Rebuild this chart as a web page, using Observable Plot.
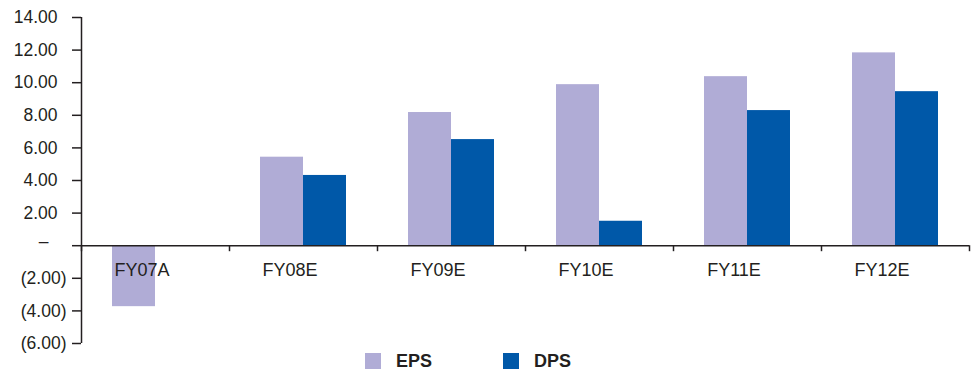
<!DOCTYPE html>
<html>
<head>
<meta charset="utf-8">
<script src="https://cdn.jsdelivr.net/npm/d3@7"></script>
<script src="https://cdn.jsdelivr.net/npm/@observablehq/plot@0.6"></script>
<style>
  html, body { margin: 0; padding: 0; background: #fff; }
  #wrap { width: 978px; font-family: "Liberation Sans", Arial, sans-serif; color: #231f20; }
  #chart svg { overflow: visible; display: block; }
  #legend { position: relative; height: 24px; }
  .sw { position: absolute; top: 3px; width: 16px; height: 16px; }
  .lt { position: absolute; top: 0px; font-weight: bold; font-size: 18px; line-height: 22px; }
</style>
</head>
<body>
<div id="wrap">
  <div id="chart"></div>
  <div id="legend"></div>
</div>
<script>
const categories = ["FY07A", "FY08E", "FY09E", "FY10E", "FY11E", "FY12E"];
const epsValues = [-3.74, 5.43, 8.17, 9.88, 10.37, 11.83];
const dpsValues = [null, 4.31, 6.51, 1.50, 8.29, 9.45];
const yTicks = [-6, -4, -2, 0, 2, 4, 6, 8, 10, 12, 14];
const seriesNames = ["EPS", "DPS"];
const seriesColors = ["#b0acd6", "#0058a8"];

const eps = categories.map((c, i) => ({cat: c, value: epsValues[i]}));
const dps = categories.map((c, i) => ({cat: c, value: dpsValues[i]})).filter(d => d.value != null);

const ink = "#231f20";
const fmt = v => v === 0 ? "–" : v < 0 ? `(${Math.abs(v).toFixed(2)})` : v.toFixed(2);
const half = 74;
const barW = 43;

const chart = Plot.plot({
  width: 978,
  height: 350,
  marginLeft: 81,
  marginRight: 9,
  marginTop: 17,
  marginBottom: 7,
  style: {fontFamily: "'Liberation Sans', Arial, sans-serif", color: ink, background: "#fff", overflow: "visible"},
  x: {type: "band", domain: categories, padding: 0, axis: null},
  y: {domain: [-6, 14], axis: null},
  marks: [
    Plot.barY(eps, {x: "cat", y: "value", fill: seriesColors[0], insetLeft: half - barW, insetRight: half}),
    Plot.barY(dps, {x: "cat", y: "value", fill: seriesColors[1], insetLeft: half, insetRight: half - barW}),
    Plot.ruleY([0], {stroke: ink, strokeWidth: 1.5}),
    Plot.ruleX([categories[0]], {x: d => d, y1: -6, y2: 14, dx: -half, stroke: ink, strokeWidth: 1.5}),
    Plot.ruleX(categories, {x: d => d, y1: 0, y2: 0, dx: -half, insetBottom: -6, stroke: ink, strokeWidth: 1.5}),
    Plot.ruleX([categories[categories.length - 1]], {x: d => d, y1: 0, y2: 0, dx: half, insetBottom: -6, stroke: ink, strokeWidth: 1.5}),
    Plot.axisY({ticks: yTicks, tickSize: 9, tickFormat: () => "", stroke: ink, strokeWidth: 1.5, label: null}),
    Plot.text(yTicks.filter(v => v > 0), {y: d => d, text: fmt, frameAnchor: "left", textAnchor: "end", dx: -24, fontSize: 17.5, fill: ink}),
    Plot.text(yTicks.filter(v => v < 0), {y: d => d, text: fmt, frameAnchor: "left", textAnchor: "end", dx: -15, fontSize: 17.5, fill: ink}),
    Plot.text(yTicks.filter(v => v === 0), {y: d => d, text: fmt, frameAnchor: "left", textAnchor: "end", dx: -33, dy: -4, fontSize: 17.5, fill: ink}),
    Plot.text(categories, {x: d => d, y: 0, text: d => d, dx: -13.5, dy: 25, fontSize: 18, fill: ink})
  ]
});
document.getElementById("chart").appendChild(chart);

const legend = document.getElementById("legend");
const swX = [365, 503];
const txX = [396, 534];
seriesNames.forEach((name, i) => {
  const sw = document.createElement("div");
  sw.className = "sw";
  sw.style.left = swX[i] + "px";
  sw.style.background = seriesColors[i];
  legend.appendChild(sw);
  const t = document.createElement("div");
  t.className = "lt";
  t.style.left = txX[i] + "px";
  t.textContent = name;
  legend.appendChild(t);
});
</script>
</body>
</html>
